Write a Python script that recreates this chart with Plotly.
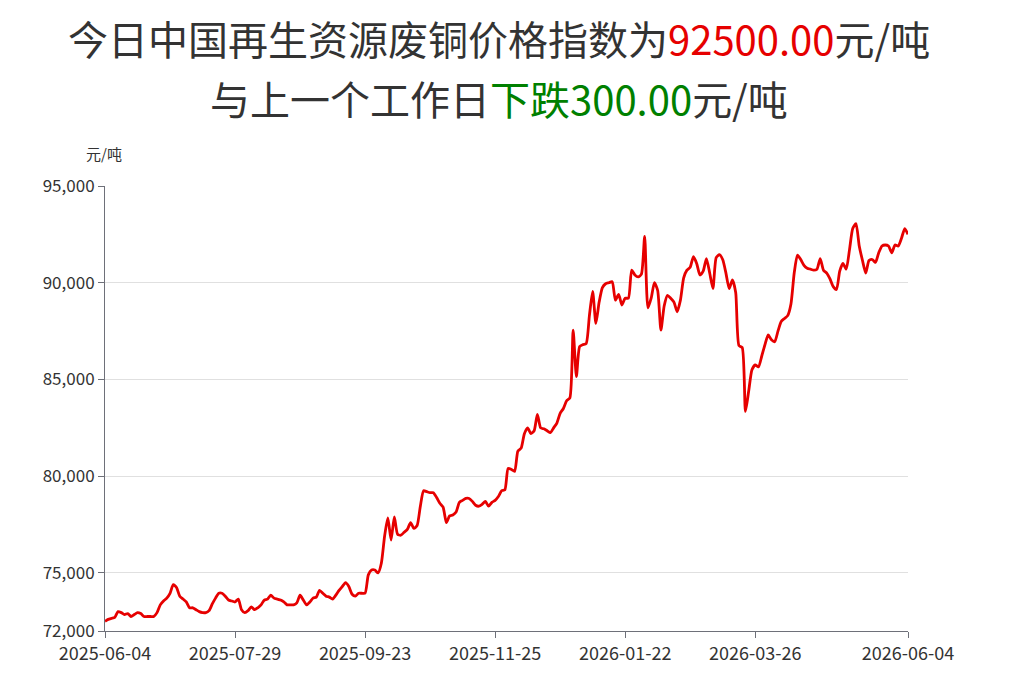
import plotly.graph_objects as go

# tick labels (category positions every 40 trading days, last = final day)
tick_labels = ["2025-06-04", "2025-07-29", "2025-09-23", "2025-11-25",
               "2026-01-22", "2026-03-26", "2026-06-04"]
tick_index = [0, 40, 80, 120, 160, 200, 247]

y_ticks = [72000, 75000, 80000, 85000, 90000, 95000]

# daily index values (元/吨)
prices_2025_q3 = [
    72500, 72600, 72650, 72700, 73000, 72950, 72850, 72900, 72750, 72850,
    72950, 72900, 72750, 72750, 72750, 72750, 72950, 73350, 73550, 73700,
    73950, 74400, 74250, 73800, 73650, 73500, 73200, 73200, 73100, 73000,
    72950, 72950, 73050, 73400, 73700, 73950, 73950, 73800, 73600, 73550,
    73500, 73650, 73100, 72950, 73050, 73250, 73100, 73200, 73350, 73600,
    73650, 73850, 73700, 73650, 73600, 73500, 73350, 73350, 73350, 73450,
    73850, 73600, 73350, 73500, 73700, 73750, 74100, 73950, 73800, 73750,
    73650, 73850, 74100, 74300, 74500, 74300, 73900, 73800, 73950, 73950,
]
prices_2025_q4 = [
    73950, 74900, 75150, 75150, 75000, 75500, 76900, 77850, 76700, 77900,
    77000, 76950, 77100, 77250, 77600, 77300, 77450, 78450, 79250, 79200,
    79150, 79150, 78900, 78600, 78400, 77600, 77950, 78000, 78150, 78650,
    78750, 78850, 78850, 78700, 78500, 78450, 78550, 78700, 78450, 78650,
    78750, 78950, 79250, 79300, 80400, 80350, 80250, 81300, 81450, 82200,
    82500, 82200, 82350, 83200, 82500, 82450, 82350, 82250, 82500, 82750,
    83250, 83500, 83900, 84050, 87550, 85150, 86700, 86800, 86850, 88300,
    89550, 87900, 89000, 89750, 89950, 90000, 90050, 89100, 89400, 88850,
]
prices_2026 = [
    89200, 89200, 90650, 90400, 90300, 90450, 92400, 88700, 89200, 90000,
    89600, 87550, 88800, 89350, 89200, 89000, 88500, 89100, 90250, 90650,
    90800, 91350, 91000, 90400, 90600, 91250, 90500, 89700, 91300, 91450,
    91200, 90500, 89700, 90150, 89500, 86750, 86650, 83350, 84400, 85500,
    85750, 85650, 86200, 86800, 87300, 87050, 86950, 87500, 88000, 88150,
    88300, 88900, 90500, 91430, 91200, 90900, 90750, 90700, 90650, 90700,
    91250, 90650, 90500, 90200, 89800, 89650, 90600, 91000, 90700, 91700,
    92800, 93050, 91900, 91150, 90500, 91150, 91200, 91050, 91550, 91900,
    91950, 91900, 91550, 91950, 91900, 92300, 92800, 92500,
]
prices = prices_2025_q3 + prices_2025_q4 + prices_2026
idx = list(range(len(prices)))

FONT = "Noto Sans CJK SC, Microsoft YaHei, sans-serif"
TXT = "#333333"

fig = go.Figure()
fig.add_trace(go.Scatter(
    x=idx, y=prices, mode="lines",
    line=dict(color="#e60000", width=2.8, shape="spline", smoothing=0.6),
    hoverinfo="y", showlegend=False,
))

fig.update_layout(
    width=1014, height=690,
    margin=dict(l=105, r=106, t=186, b=59),
    paper_bgcolor="white", plot_bgcolor="white",
    font=dict(family=FONT, color=TXT, size=16),
    xaxis=dict(
        range=[0, len(prices) - 1],
        tickvals=tick_index, ticktext=tick_labels,
        showgrid=False, zeroline=False,
        showline=True, linecolor="#6e7079", linewidth=1,
        ticks="outside", ticklen=6, tickcolor="#6e7079",
        tickfont=dict(size=18, color=TXT, family=FONT),
    ),
    yaxis=dict(
        range=[72000, 95000],
        tickvals=y_ticks, tickformat=",d",
        showgrid=True, gridcolor="#e0e0e0", gridwidth=1,
        zeroline=False,
        showline=True, linecolor="#6e7079", linewidth=1,
        ticks="outside", ticklen=6, tickcolor="#6e7079",
        tickfont=dict(size=17, color=TXT, family=FONT),
    ),
    annotations=[
        dict(xref="paper", yref="paper", x=(499 - 105) / 803, y=1 + (186 - 38) / 445,
             xanchor="center", yanchor="middle", showarrow=False,
             text='今日中国再生资源废铜价格指数为<span style="color:#e60000">92500.00</span>元/吨',
             font=dict(size=40, color=TXT, family=FONT)),
        dict(xref="paper", yref="paper", x=(499 - 105) / 803, y=1 + (186 - 98) / 445,
             xanchor="center", yanchor="middle", showarrow=False,
             text='与上一个工作日<span style="color:#008000">下跌300.00</span>元/吨',
             font=dict(size=40, color=TXT, family=FONT)),
        dict(xref="paper", yref="paper", x=(104 - 105) / 803, y=1 + (186 - 153) / 445,
             xanchor="center", yanchor="middle", showarrow=False,
             text="元/吨", font=dict(size=15, color=TXT, family=FONT)),
    ],
)

fig.write_html("out.html")
